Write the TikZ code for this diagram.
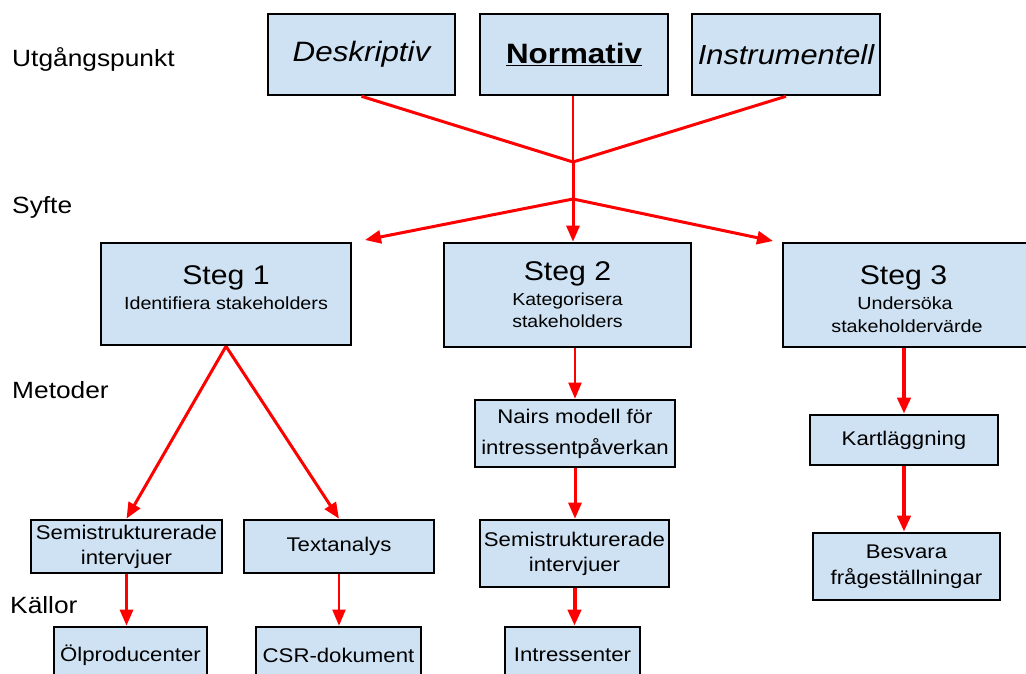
\documentclass[tikz,border=0pt]{standalone}
\usepackage{fontspec}
\setmainfont{Liberation Sans}[FakeStretch=1.12]
\usetikzlibrary{arrows.meta}
\definecolor{boxblue}{HTML}{CFE2F3}
\definecolor{arrred}{HTML}{FF0000}
\newcommand\setfs[2]{\fontsize{#1}{#2}\selectfont}
\tikzset{
  box/.style={draw=black, line width=2.6pt, fill=boxblue, inner sep=0pt, align=center},
  lbl/.style={anchor=base west, inner sep=0pt, font=\setfs{23.5}{27}},
  ttl/.style={anchor=base, inner sep=0pt},
  conn/.style={draw=arrred, line width=3pt},
  arr/.style={conn, -{Triangle[length=16pt,width=13pt]}},
  thinarr/.style={arr, line width=2pt},
  thickarr/.style={arr, line width=4pt},
}
\begin{document}
\begin{tikzpicture}[x=1pt,y=-1pt]
\useasboundingbox (0,0) rectangle (1026,674);
\clip (0,0) rectangle (1026,674);

% side labels
\node[lbl] (lutg) at (12,67) {Utgångspunkt};
\node[lbl] (lsyf) at (12,213) {Syfte};
\node[lbl] (lmet) at (12,398) {Metoder};
\node[lbl] (lkal) at (10,613) {Källor};

% top boxes
\node[box, minimum width=187, minimum height=81, font=\setfs{28}{32}\itshape] (desk) at (361.5,54.5) {Deskriptiv};
\node[box, minimum width=188, minimum height=81, font=\setfs{28}{32}\bfseries] (norm) at (574,54.5) {\underline{Normativ}};
\node[box, minimum width=188, minimum height=81, font=\setfs{27.5}{32}\itshape] (instr) at (786,54.5) {Instrumentell};

% steg boxes
\node[box, minimum width=250, minimum height=102] (s1) at (226,294) {};
\node[ttl, font=\setfs{27}{30}] (s1t) at (226,284) {Steg 1};
\node[ttl, font=\setfs{17.6}{22}] (s1s) at (226,309) {Identifiera stakeholders};

\node[box, minimum width=247, minimum height=104] (s2) at (567.5,295) {};
\node[ttl, font=\setfs{27}{30}] (s2t) at (567.5,280) {Steg 2};
\node[ttl, font=\setfs{17.4}{22}] (s2s) at (567.5,305) {Kategorisera};
\node[ttl, font=\setfs{17.4}{22}] (s2u) at (567.5,327) {stakeholders};

\node[box, minimum width=256, minimum height=104] (s3) at (911,295) {};
\node[ttl, font=\setfs{27}{30}] (s3t) at (903.5,284) {Steg 3};
\node[ttl, font=\setfs{17.6}{22}] (s3s) at (905,309) {Undersöka};
\node[ttl, font=\setfs{17.6}{22}] (s3u) at (907,332) {stakeholdervärde};

% method boxes
\node[box, minimum width=200, minimum height=67, font=\setfs{19.8}{31}] (nairs) at (575,433.5) {Nairs modell för\\intressentpåverkan};
\node[box, minimum width=188, minimum height=50, font=\setfs{19.8}{25}] (kart) at (904,440) {Kartläggning};
\node[box, minimum width=187, minimum height=67, font=\setfs{19.8}{26}] (bes) at (906.5,566.5) {Besvara\\frågeställningar};
\node[box, minimum width=191, minimum height=53, font=\setfs{19.8}{25}] (semi1) at (126.5,546.5) {Semistrukturerade\\intervjuer};
\node[box, minimum width=190, minimum height=53, font=\setfs{19.8}{25}] (text) at (339,546.5) {Textanalys};
\node[box, minimum width=189, minimum height=67, font=\setfs{19.8}{25}] (semi2) at (574.5,553.5) {Semistrukturerade\\intervjuer};

% source boxes
\node[box, minimum width=153, minimum height=56, font=\setfs{19.8}{25}] (olp) at (130.5,655) {Ölproducenter};
\node[box, minimum width=165, minimum height=56, font=\setfs{19.8}{25}] (csr) at (338.5,655) {CSR-dokument};
\node[box, minimum width=135, minimum height=56, font=\setfs{19.8}{25}] (int) at (572.5,655) {Intressenter};

% connectors top
\coordinate (j1) at (573,162);
\coordinate (j2) at (573,199);
\coordinate (tl) at (365,240);
\coordinate (tr) at (773,241);
\draw[conn] (desk.south) -- (j1);
\draw[conn, line width=2.5pt] (norm.south -| j1) -- (j1);
\draw[conn] (instr.south) -- (j1);
\draw[arr] (j1) -- (j1 |- s2.north);
\draw[arr] (j2) -- (tl);
\draw[arr] (j2) -- (tr);

% steg 1
\draw[arr] (s1.south) -- (semi1.north);
\draw[arr] (s1.south) -- (text.north);
\draw[arr] (semi1.south) -- (semi1.south |- olp.north);
\draw[thinarr] (text.south) -- (text.south |- csr.north);

% steg 2
\draw[thinarr] (nairs.north |- s2.south) -- (nairs.north);
\draw[arr] (nairs.south) -- (nairs.south |- semi2.north);
\draw[thickarr] (semi2.south) -- (semi2.south |- int.north);

% steg 3
\draw[thickarr] (kart.north |- s3.south) -- (kart.north);
\draw[thickarr] (kart.south) -- (kart.south |- bes.north);
\end{tikzpicture}
\end{document}
